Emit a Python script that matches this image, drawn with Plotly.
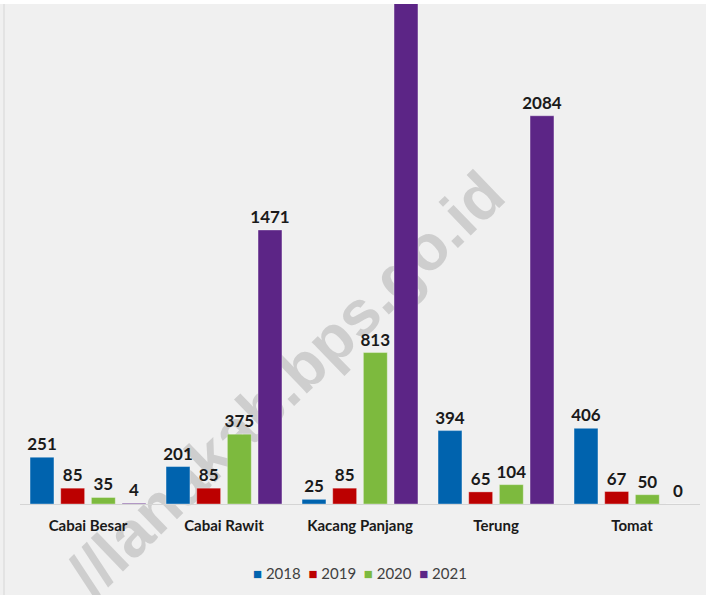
import plotly.graph_objects as go

# ── Data ──────────────────────────────────────────────────────────────────────
categories = ["Cabai Besar", "Cabai Rawit", "Kacang Panjang", "Terung", "Tomat"]
years = ["2018", "2019", "2020", "2021"]
v2018 = [251, 201, 25, 394, 406]
v2019 = [85, 85, 85, 65, 67]
v2020 = [35, 375, 813, 104, 50]
v2021 = [4, 1471, 2900, 2084, 0]   # Kacang Panjang 2021 runs off the top (estimated)

Y_MAX = 2684

COLORS = {
    "2018": "#0063AE",
    "2019": "#BC0000",
    "2020": "#7DBA3E",
    "2021": "#5C2586",
}

FONT = "Lato, Carlito, Calibri, sans-serif"

fig = go.Figure()

for year, vals in zip(years, [v2018, v2019, v2020, v2021]):
    labels = [str(v) if v <= Y_MAX else "" for v in vals]
    fig.add_trace(go.Bar(
        name=year,
        x=categories,
        y=vals,
        marker=dict(color=COLORS[year], line=dict(width=1, color="rgba(255,255,255,0.35)")),
        text=labels,
        textposition="outside",
        constraintext="none",
        textfont=dict(family=FONT, size=17, color="#1A1A1A", weight="bold"),
        cliponaxis=True,
        showlegend=False,
    ))

# legend as one line of text: coloured squares + year
legend_text = "  ".join(
    f"<span style='color:{COLORS[y]}'>■</span> {y}" for y in years
)
fig.add_annotation(
    text=legend_text,
    xref="paper", yref="paper",
    x=0.5, y=-0.138,
    xanchor="center", yanchor="middle",
    showarrow=False,
    font=dict(family=FONT, size=15, color="#404040"),
)

# watermark, kept behind the bars
fig.add_shape(
    type="rect", xref="paper", yref="paper",
    x0=0.0, x1=0.77, y0=-0.1, y1=0.6,
    line=dict(width=0), fillcolor="rgba(0,0,0,0)",
    layer="below",
    label=dict(
        text="//lanakab.bps.go.id",
        textangle=-44,
        textposition="middle center",
        font=dict(family="Liberation Sans, Arial, sans-serif", size=64,
                  color="rgba(120,120,120,0.28)", weight="bold"),
    ),
)

# white strip at top and thin frame line on the left
fig.add_shape(type="rect", xref="paper", yref="paper", x0=-0.1, x1=1.1, y0=1.0, y1=1.008,
              fillcolor="white", line=dict(width=0), layer="above")
fig.add_shape(type="line", xref="paper", yref="paper", x0=-0.0235, x1=-0.0235, y0=-0.2, y1=1.0,
              line=dict(color="#D6D6D6", width=1))

fig.update_layout(
    width=706, height=595,
    paper_bgcolor="#F0F0F0",
    plot_bgcolor="rgba(0,0,0,0)",
    margin=dict(l=20, r=6, t=4, b=91),
    barmode="group",
    bargap=0.098,
    bargroupgap=0.22,
    font=dict(family=FONT, color="#404040"),
    showlegend=False,
)

fig.update_xaxes(
    showgrid=False,
    showline=True,
    linecolor="#D4D4D4",
    linewidth=1,
    ticks="",
    tickfont=dict(family=FONT, size=15, color="#1A1A1A", weight="bold"),
    ticklabelstandoff=8,
)
fig.update_yaxes(
    range=[0, Y_MAX],
    showgrid=False,
    showticklabels=False,
    zeroline=False,
    showline=False,
)

fig.write_html("out.html", config={"displayModeBar": False},
               post_script="document.body.style.margin='0';")
